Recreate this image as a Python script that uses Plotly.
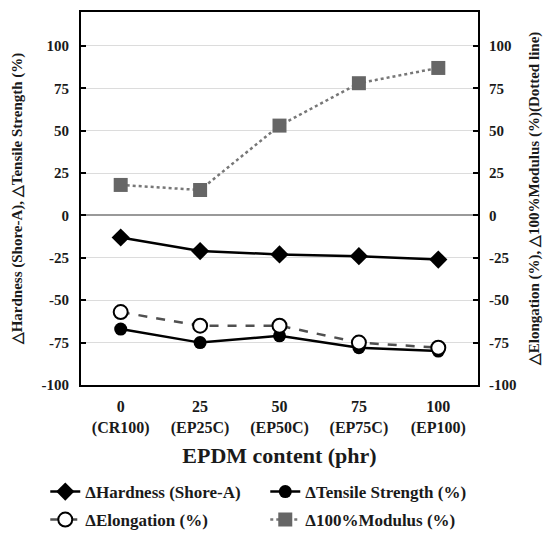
import plotly.graph_objects as go

categories = ["0<br>(CR100)", "25<br>(EP25C)", "50<br>(EP50C)", "75<br>(EP75C)", "100<br>(EP100)"]
hardness = [-13, -21, -23, -24, -26]
tensile = [-67, -75, -71, -78, -80]
elongation = [-57, -65, -65, -75, -78]
modulus = [18, 15, 53, 78, 87]
y_ticks = [-100, -75, -50, -25, 0, 25, 50, 75, 100]

FONT = "Liberation Serif"
TXT = "#1a1a1a"
xs = list(range(len(categories)))


def b(s):
    return "<b>" + s.replace("<br>", "</b><br><b>") + "</b>"


fig = go.Figure()
fig.add_trace(go.Scatter(x=xs, y=hardness, name=b("ΔHardness (Shore-A)"), mode="lines+markers",
                         legend="legend",
                         line=dict(color="black", width=2.5),
                         marker=dict(symbol="diamond", size=14, color="black")))
fig.add_trace(go.Scatter(x=xs, y=tensile, name=b("ΔTensile Strength (%)"), mode="lines+markers",
                         legend="legend",
                         line=dict(color="black", width=2.5),
                         marker=dict(symbol="circle", size=13, color="black")))
fig.add_trace(go.Scatter(x=xs, y=elongation, name=b("ΔElongation (%)"), mode="lines+markers", yaxis="y2",
                         legend="legend2",
                         line=dict(color="#505050", width=2.5, dash="dash"),
                         marker=dict(symbol="circle", size=14, color="white",
                                     line=dict(color="black", width=2))))
fig.add_trace(go.Scatter(x=xs, y=modulus, name=b("Δ100%Modulus (%)"), mode="lines+markers", yaxis="y2",
                         legend="legend2",
                         line=dict(color="#777777", width=2.5, dash="dot"),
                         marker=dict(symbol="square", size=14, color="#666666")))

ytext = [b(str(v)) for v in y_ticks]

legend_common = dict(orientation="h", xanchor="left", yanchor="middle",
                     entrywidth=175, entrywidthmode="pixels",
                     font=dict(family=FONT, size=17, color=TXT),
                     itemwidth=30, tracegroupgap=0, traceorder="normal",
                     bgcolor="rgba(0,0,0,0)")

fig.update_layout(
    width=543, height=526,
    margin=dict(l=73, r=73, t=4, b=149, autoexpand=False),
    paper_bgcolor="white", plot_bgcolor="white",
    font=dict(family=FONT, size=15, color=TXT),
    xaxis=dict(tickvals=xs, ticktext=[b(c) for c in categories], range=[-0.5, 4.5],
               showgrid=False, zeroline=False, showline=True, linecolor="black", linewidth=2,
               mirror=True, ticks="", ticklabelstandoff=6,
               tickfont=dict(family=FONT, size=16, color=TXT),
               title=dict(text=b("EPDM content (phr)"), font=dict(family=FONT, size=22, color=TXT),
                          standoff=12)),
    yaxis=dict(range=[-100, 120], tickvals=y_ticks, ticktext=ytext, showgrid=True, gridcolor="#dcdcdc",
               gridwidth=1, zeroline=True, zerolinecolor="#999999", zerolinewidth=1.5,
               showline=True, linecolor="black", linewidth=2, mirror=True,
               ticks="inside", ticklen=5, tickcolor="black", tickwidth=1.5, ticklabelstandoff=7,
               tickfont=dict(family=FONT, size=15, color=TXT),
               title=dict(text=b("△Hardness (Shore-A), △Tensile Strength (%)"),
                          font=dict(family=FONT, size=15, color=TXT), standoff=15)),
    yaxis2=dict(range=[-100, 120], tickvals=y_ticks, ticktext=ytext, overlaying="y", side="right",
                showgrid=False, zeroline=False, showline=False,
                ticks="inside", ticklen=5, tickcolor="black", tickwidth=1.5, ticklabelstandoff=10,
                tickfont=dict(family=FONT, size=15, color=TXT),
                title=dict(text=b("△Elongation (%), △100%Modulus (%)(Dotted line)"),
                           font=dict(family=FONT, size=15, color=TXT), standoff=12)),
    legend=dict(x=-0.09, y=-0.287, **legend_common),
    legend2=dict(x=-0.09, y=-0.362, **legend_common),
    showlegend=True,
)

fig.write_html("out.html")
